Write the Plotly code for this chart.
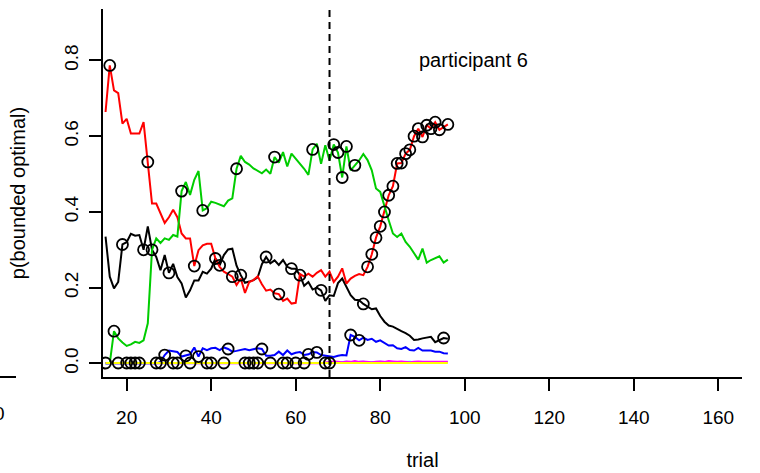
import plotly.graph_objects as go

# ---------------- data ----------------
trials = list(range(15, 97))

p_red = [0.664, 0.787, 0.721, 0.714, 0.633, 0.646, 0.607, 0.607, 0.607, 0.637,
         0.532, 0.422, 0.422, 0.396, 0.371, 0.386, 0.406, 0.386, 0.343, 0.330,
         0.330, 0.257, 0.299, 0.312, 0.316, 0.316, 0.277, 0.255, 0.242, 0.236,
         0.229, 0.207, 0.224, 0.186, 0.215, 0.220, 0.230, 0.209, 0.192, 0.195,
         0.185, 0.183, 0.165, 0.171, 0.158, 0.160, 0.236, 0.229, 0.237, 0.229,
         0.239, 0.246, 0.229, 0.242, 0.215, 0.229, 0.251, 0.211, 0.224, 0.231,
         0.236, 0.233, 0.255, 0.288, 0.332, 0.362, 0.400, 0.444, 0.468, 0.528,
         0.529, 0.554, 0.564, 0.600, 0.620, 0.598, 0.629, 0.620, 0.637, 0.617,
         0.624, 0.631]

p_green = [0.000, 0.000, 0.085, 0.066, 0.055, 0.046, 0.050, 0.057, 0.054, 0.061,
           0.106, 0.300, 0.330, 0.318, 0.330, 0.326, 0.339, 0.335, 0.455, 0.479,
           0.445, 0.485, 0.508, 0.404, 0.410, 0.427, 0.424, 0.419, 0.415, 0.430,
           0.436, 0.514, 0.548, 0.532, 0.525, 0.515, 0.508, 0.502, 0.512, 0.501,
           0.545, 0.530, 0.558, 0.520, 0.554, 0.541, 0.527, 0.514, 0.498, 0.565,
           0.580, 0.527, 0.576, 0.536, 0.578, 0.557, 0.491, 0.573, 0.510, 0.523,
           0.536, 0.553, 0.537, 0.510, 0.462, 0.453, 0.413, 0.378, 0.343, 0.334,
           0.343, 0.321, 0.308, 0.290, 0.274, 0.303, 0.266, 0.273, 0.279, 0.283,
           0.266, 0.274]

p_black = [0.335, 0.229, 0.198, 0.215, 0.314, 0.320, 0.342, 0.337, 0.339, 0.300,
           0.362, 0.300, 0.281, 0.246, 0.286, 0.239, 0.263, 0.228, 0.211, 0.174,
           0.193, 0.219, 0.219, 0.242, 0.237, 0.250, 0.277, 0.259, 0.286, 0.301,
           0.303, 0.258, 0.233, 0.213, 0.216, 0.220, 0.227, 0.262, 0.281, 0.264,
           0.272, 0.260, 0.273, 0.255, 0.250, 0.250, 0.233, 0.205, 0.215, 0.195,
           0.200, 0.193, 0.165, 0.180, 0.178, 0.212, 0.224, 0.200, 0.180, 0.168,
           0.167, 0.157, 0.150, 0.143, 0.145, 0.125, 0.110, 0.100, 0.097, 0.090,
           0.085, 0.080, 0.073, 0.062, 0.063, 0.066, 0.068, 0.070, 0.056, 0.062,
           0.067, 0.065]

p_blue = [0.000, 0.000, 0.000, 0.000, 0.000, 0.000, 0.000, 0.000, 0.000, 0.000,
          0.000, 0.000, 0.000, 0.004, 0.022, 0.034, 0.031, 0.030, 0.018, 0.020,
          0.024, 0.042, 0.018, 0.040, 0.035, 0.040, 0.041, 0.035, 0.042, 0.038,
          0.031, 0.033, 0.036, 0.038, 0.035, 0.038, 0.040, 0.038, 0.020, 0.020,
          0.022, 0.031, 0.022, 0.034, 0.024, 0.028, 0.030, 0.022, 0.024, 0.030,
          0.029, 0.022, 0.020, 0.018, 0.017, 0.020, 0.022, 0.021, 0.075, 0.070,
          0.061, 0.068, 0.062, 0.065, 0.057, 0.061, 0.053, 0.047, 0.048, 0.040,
          0.038, 0.043, 0.035, 0.034, 0.041, 0.034, 0.034, 0.034, 0.031, 0.031,
          0.027, 0.026]

p_cyan = [0.000, 0.000, 0.000, 0.000, 0.000, 0.000, 0.000, 0.000, 0.000, 0.000,
          0.000, 0.000, 0.000, 0.000, 0.000, 0.000, 0.000, 0.000, 0.000, 0.000,
          0.000, 0.000, 0.000, 0.000, 0.000, 0.000, 0.000, 0.000, 0.000, 0.000,
          0.000, 0.000, 0.000, 0.000, 0.000, 0.000, 0.000, 0.000, 0.000, 0.000,
          0.000, 0.000, 0.000, 0.000, 0.000, 0.000, 0.000, 0.000, 0.000, 0.000,
          0.000, 0.000, 0.000, 0.001, 0.002, 0.003, 0.003, 0.004, 0.003, 0.004,
          0.005, 0.004, 0.003, 0.004, 0.005, 0.004, 0.003, 0.004, 0.003, 0.003,
          0.004, 0.003, 0.004, 0.003, 0.003, 0.004, 0.003, 0.003, 0.004, 0.003,
          0.003, 0.003]

p_magenta = [0.000, 0.000, 0.000, 0.000, 0.000, 0.000, 0.000, 0.000, 0.000, 0.000,
             0.000, 0.000, 0.000, 0.000, 0.000, 0.000, 0.000, 0.000, 0.000, 0.000,
             0.000, 0.000, 0.000, 0.000, 0.000, 0.000, 0.000, 0.000, 0.000, 0.000,
             0.000, 0.000, 0.000, 0.000, 0.000, 0.000, 0.000, 0.000, 0.000, 0.000,
             0.000, 0.000, 0.000, 0.000, 0.000, 0.000, 0.000, 0.000, 0.000, 0.000,
             0.000, 0.000, 0.002, 0.004, 0.005, 0.004, 0.003, 0.005, 0.004, 0.006,
             0.004, 0.005, 0.004, 0.003, 0.004, 0.005, 0.004, 0.006, 0.005, 0.004,
             0.005, 0.004, 0.003, 0.004, 0.005, 0.004, 0.004, 0.003, 0.004, 0.004,
             0.003, 0.004]

p_yellow = [0.001, 0.001, 0.001, 0.001, 0.001, 0.001, 0.001, 0.001, 0.001, 0.001,
            0.001, 0.001, 0.001, 0.001, 0.001, 0.001, 0.001, 0.001, 0.001, 0.001,
            0.001, 0.001, 0.001, 0.001, 0.001, 0.001, 0.001, 0.001, 0.001, 0.001,
            0.001, 0.001, 0.001, 0.001, 0.001, 0.001, 0.001, 0.001, 0.001, 0.001,
            0.001, 0.001, 0.001, 0.001, 0.001, 0.001, 0.001, 0.001, 0.001, 0.001,
            0.001, 0.001, 0.001, 0.001, 0.001, 0.001, 0.001, 0.001, 0.001, 0.001,
            0.001, 0.001, 0.001, 0.001, 0.001, 0.001, 0.001, 0.001, 0.001, 0.001,
            0.001, 0.001, 0.001, 0.001, 0.001, 0.001, 0.001, 0.001, 0.001, 0.001,
            0.001, 0.001]

# strategy chosen on each trial (circle drawn on that strategy's probability)
chosen = ["Z", "R", "G", "Z", "K", "Z", "Z", "Z", "Z", "K",
          "R", "K", "Z", "Z", "B", "K", "Z", "Z", "G", "B",
          "Z", "R", "B", "G", "Z", "Z", "K", "K", "Z", "B",
          "R", "G", "K", "Z", "Z", "Z", "Z", "B", "K", "Z",
          "G", "R", "Z", "Z", "K", "Z", "K", "Z", "B", "G",
          "B", "K", "Z", "Z", "G", "G", "G", "G", "B", "G",
          "B", "K", "R", "R", "R", "R", "R", "R", "R", "R",
          "R", "R", "R", "R", "R", "R", "R", "R", "R", "R",
          "K", "R"]

switch_trial = 68
label_text = "participant 6"
label_x, label_y = 102, 0.8
x_ticks = [0, 20, 40, 60, 80, 100, 120, 140, 160]
y_ticks = [0.0, 0.2, 0.4, 0.6, 0.8]
y_ticklabels = ["0.0", "0.2", "0.4", "0.6", "0.8"]

# ---------------- figure ----------------
series = {
    "K": (p_black, "black"),
    "R": (p_red, "#FF0000"),
    "G": (p_green, "#00CD00"),
    "B": (p_blue, "#0000FF"),
    "C": (p_cyan, "#00FFFF"),
    "M": (p_magenta, "#FF00FF"),
    "Z": (p_yellow, "#FFFF00"),
}

fig = go.Figure()
for key in ["K", "R", "G", "B", "C", "M", "Z"]:
    vals, col = series[key]
    fig.add_trace(go.Scatter(x=trials, y=vals, mode="lines",
                             line=dict(color=col, width=2), hoverinfo="skip",
                             showlegend=False))

circ_y = [series[c][0][i] for i, c in enumerate(chosen)]
fig.add_trace(go.Scatter(x=trials, y=circ_y, mode="markers",
                         marker=dict(symbol="circle-open", size=11, color="black",
                                     line=dict(width=1.8, color="black")),
                         hoverinfo="skip", showlegend=False))

y_lo, y_hi = -0.036, 0.936
fig.add_shape(type="line", x0=switch_trial, x1=switch_trial, y0=y_lo, y1=y_hi,
              xref="x", yref="y", line=dict(color="black", width=2, dash="7px,5px"))

fig.add_annotation(x=label_x, y=label_y, text=label_text, showarrow=False,
                   xref="x", yref="y", xanchor="center", yanchor="middle",
                   font=dict(size=20, color="black"))

# fragment of the neighbouring panel at the far left
fig.add_shape(type="line", xref="paper", yref="paper",
              x0=-103 / 639, x1=-87 / 639, y0=0, y1=0,
              line=dict(color="black", width=2))
fig.add_annotation(xref="paper", yref="paper", x=-96 / 639, y=(377 - 413) / 368,
                   text="0", showarrow=False, xanchor="right", yanchor="middle",
                   font=dict(size=19, color="black"))

fig.update_layout(
    width=760, height=473,
    margin=dict(l=103, r=18, t=9, b=96),
    paper_bgcolor="white", plot_bgcolor="white",
    font=dict(family="Liberation Sans, Arial, Helvetica, sans-serif", size=19, color="black"),
    xaxis=dict(range=[14.4, 165.6], tickvals=x_ticks, ticks="outside", ticklen=12,
               tickwidth=2, tickcolor="black", showline=True, linecolor="black",
               linewidth=2, showgrid=False, zeroline=False, automargin=False,
               ticklabelstandoff=10, tickfont=dict(size=19),
               title=dict(text="trial", standoff=26, font=dict(size=20))),
    yaxis=dict(range=[y_lo, y_hi], tickvals=y_ticks, ticktext=y_ticklabels,
               ticks="outside", ticklen=12, tickwidth=2, tickcolor="black",
               tickangle=-90, showline=True, linecolor="black", linewidth=2,
               showgrid=False, zeroline=False, automargin=False,
               ticklabelstandoff=3, tickfont=dict(size=19),
               title=dict(text="p(bounded optimal)", standoff=30, font=dict(size=20))),
)

fig.write_html("out.html", config={"displayModeBar": False},
               post_script="document.body.style.margin='0px';document.body.style.overflow='hidden';")
